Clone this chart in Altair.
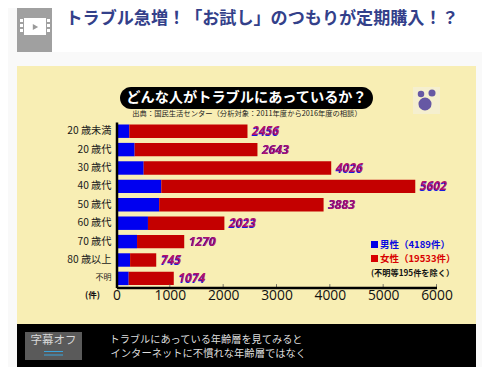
import altair as alt
import pandas as pd

ages = ["20 歳未満", "20 歳代", "30 歳代", "40 歳代", "50 歳代", "60 歳代", "70 歳代", "80 歳以上", "不明"]
totals = [2456, 2643, 4026, 5602, 3883, 2023, 1270, 745, 1074]
male = [240, 340, 510, 840, 800, 590, 385, 255, 229]
x_ticks = [0, 1000, 2000, 3000, 4000, 5000, 6000]

header_title = "トラブル急増！「お試し」のつもりが定期購入！？"
chart_title = "どんな人がトラブルにあっているか？"
source_note = "出典：国民生活センター（分析対象：2011年度から2016年度の相談）"
legend_male = "男性（4189件）"
legend_female = "女性（19533件）"
legend_note = "(不明等195件を除く）"
unit_label = "(件)"
button_label = "字幕オフ"
caption_1 = "トラブルにあっている年齢層を見てみると"
caption_2 = "インターネットに不慣れな年齢層ではなく"

OX, OY = 116.5, 122
W, H = 320, 165.6
JP = "Noto Sans CJK JP"
TOTAL_W, TOTAL_H = 474, 359
RIGHT = 8 + TOTAL_W
BOTTOM = 8 + TOTAL_H

rows = []
for a, t, m in zip(ages, totals, male):
    rows.append({"age": a, "sex": "男性", "n": m, "o": 0})
    rows.append({"age": a, "sex": "女性", "n": t - m, "o": 1})
bars_df = pd.DataFrame(rows)
tot_df = pd.DataFrame({"age": ages, "total": totals})
one = pd.DataFrame({"a": [0]})

x_scale = alt.Scale(domain=[0, 6000], nice=False, zero=True)
y_scale = alt.Scale(domain=ages, paddingInner=0.27, paddingOuter=0.135)

x_axis = alt.Axis(
    title=None, values=x_ticks, domainColor="#000000", domainWidth=2.5, ticks=False,
    labelPadding=1, labelFont="Open Sans", labelFontSize=13.8, labelColor="#111111",
    grid=False, zindex=1, format="d", labelFlush=False)
y_axis = alt.Axis(
    title=None, domainColor="#000000", domainWidth=2.5, ticks=False, labelPadding=5.5,
    labelFont=JP, labelColor="#1a1a1a", grid=False, zindex=1,
    labelFontSize={"condition": {"test": "datum.value === '不明'", "value": 8}, "value": 10.2})
y_enc = alt.Y("age:N", scale=y_scale, sort=ages, axis=y_axis)


def box(x0, y0, x1, y1, color, radius=0):
    return alt.Chart(one).mark_rect(color=color, cornerRadius=radius).encode(
        x=alt.value(x0 - OX), x2=alt.value(x1 - OX),
        y=alt.value(y0 - OY), y2=alt.value(y1 - OY))


def label(x, y, s, size, color, weight="normal", align="left", font=JP):
    return alt.Chart(one).mark_text(
        font=font, fontSize=size, color=color, fontWeight=weight, align=align, baseline="middle"
    ).encode(x=alt.value(x - OX), y=alt.value(y - OY), text=alt.value(s))


def dot(x, y, size, color, shape="circle"):
    return alt.Chart(one).mark_point(
        filled=True, opacity=1, color=color, size=size, shape=shape
    ).encode(x=alt.value(x - OX), y=alt.value(y - OY))


back = [
    box(8, 8, RIGHT, BOTTOM, "#f9f9f9"),
    box(52, 8, RIGHT, 52, "#ffffff"),
    box(17, 8, 52, 52, "#a0a0a0"),
    box(24, 18, 46, 35, "#ffffff"),
    box(20, 19, 23, 22, "#ffffff"), box(20, 24, 23, 27, "#ffffff"),
    box(20, 29, 23, 32, "#ffffff"),
    box(47, 19, 50, 22, "#ffffff"), box(47, 24, 50, 27, "#ffffff"),
    box(47, 29, 50, 32, "#ffffff"),
    dot(35.5, 27, 38, "#9a9a9a", "triangle-right"),
    label(65.5, 19, header_title, 17.1, "#33408a", "bold"),
    box(17, 66, 476, 324, "#f8eeb4"),
    box(120, 87, 373, 109, "#000000", 11),
    label(246.5, 97.5, chart_title, 14.2, "#ffffff", "bold", "center"),
    label(247, 114, source_note, 7.3, "#222222", "normal", "center"),
    box(413, 87, 440, 114, "#f5efcf"),
    dot(421, 94, 42, "#6658a4"), dot(432, 93, 50, "#6658a4"),
    dot(425, 104, 170, "#6658a4"),
    box(17, 324, 476, BOTTOM, "#000000"),
    box(25, 332, 82, 360, "#5a5a5a"),
    label(53.5, 341, button_label, 11.5, "#d8d8d8", "normal", "center"),
    box(44, 351, 63, 352, "#3aa4dc"), box(44, 354.5, 63, 355.5, "#3aa4dc"),
    label(109.5, 339.5, caption_1, 10.2, "#dddddd"),
    label(110.5, 353.5, caption_2, 10.3, "#dddddd"),
    box(371, 241, 378, 248, "#0000e6"),
    label(380, 244.5, legend_male, 9.5, "#0a0ae0", "bold"),
    box(371, 255, 378, 262, "#d80000"),
    label(380, 258.5, legend_female, 9.5, "#d80000", "bold"),
    label(371, 274, legend_note, 8.2, "#111111", "bold"),
    label(92.5, 294.5, unit_label, 8.5, "#111111", "bold", "center"),
]

bars = alt.Chart(bars_df).mark_bar().encode(
    x=alt.X("n:Q", stack="zero", scale=x_scale, axis=x_axis),
    y=y_enc,
    color=alt.Color("sex:N", scale=alt.Scale(domain=["男性", "女性"], range=["#0000f0", "#c40000"]), legend=None),
    order=alt.Order("o:Q"),
)

ticks = alt.Chart(pd.DataFrame({"v": x_ticks[1:]})).mark_rule(color="#555555", strokeWidth=0.8).encode(
    x=alt.X("v:Q", scale=x_scale, axis=x_axis),
    y=alt.value(H - 3.5), y2=alt.value(H),
)

shadow = alt.Chart(tot_df).mark_text(
    font="Open Sans", fontSize=12.2, fontStyle="italic", fontWeight="bold",
    align="left", baseline="middle", dx=4.2, dy=0.6, color="#1a1ae0",
).encode(x=alt.X("total:Q", scale=x_scale, axis=x_axis), y=y_enc,
         text=alt.Text("total:Q", format="d"))
face = alt.Chart(tot_df).mark_text(
    font="Open Sans", fontSize=12.2, fontStyle="italic", fontWeight="bold",
    align="left", baseline="middle", dx=4.8, dy=0, color="#b0106c",
).encode(x=alt.X("total:Q", scale=x_scale, axis=x_axis), y=y_enc,
         text=alt.Text("total:Q", format="d"))

chart = alt.layer(*back, bars, ticks, shadow, face).properties(
    width=W, height=H,
    padding={"left": OX - 8, "top": OY - 8, "right": TOTAL_W - (OX - 8) - W, "bottom": TOTAL_H - (OY - 8) - H},
    autosize=alt.AutoSizeParams(type="none"),
    background="#ffffff",
).configure_view(stroke=None)

chart.save("out.html", embed_options={"renderer": "svg", "actions": False})
